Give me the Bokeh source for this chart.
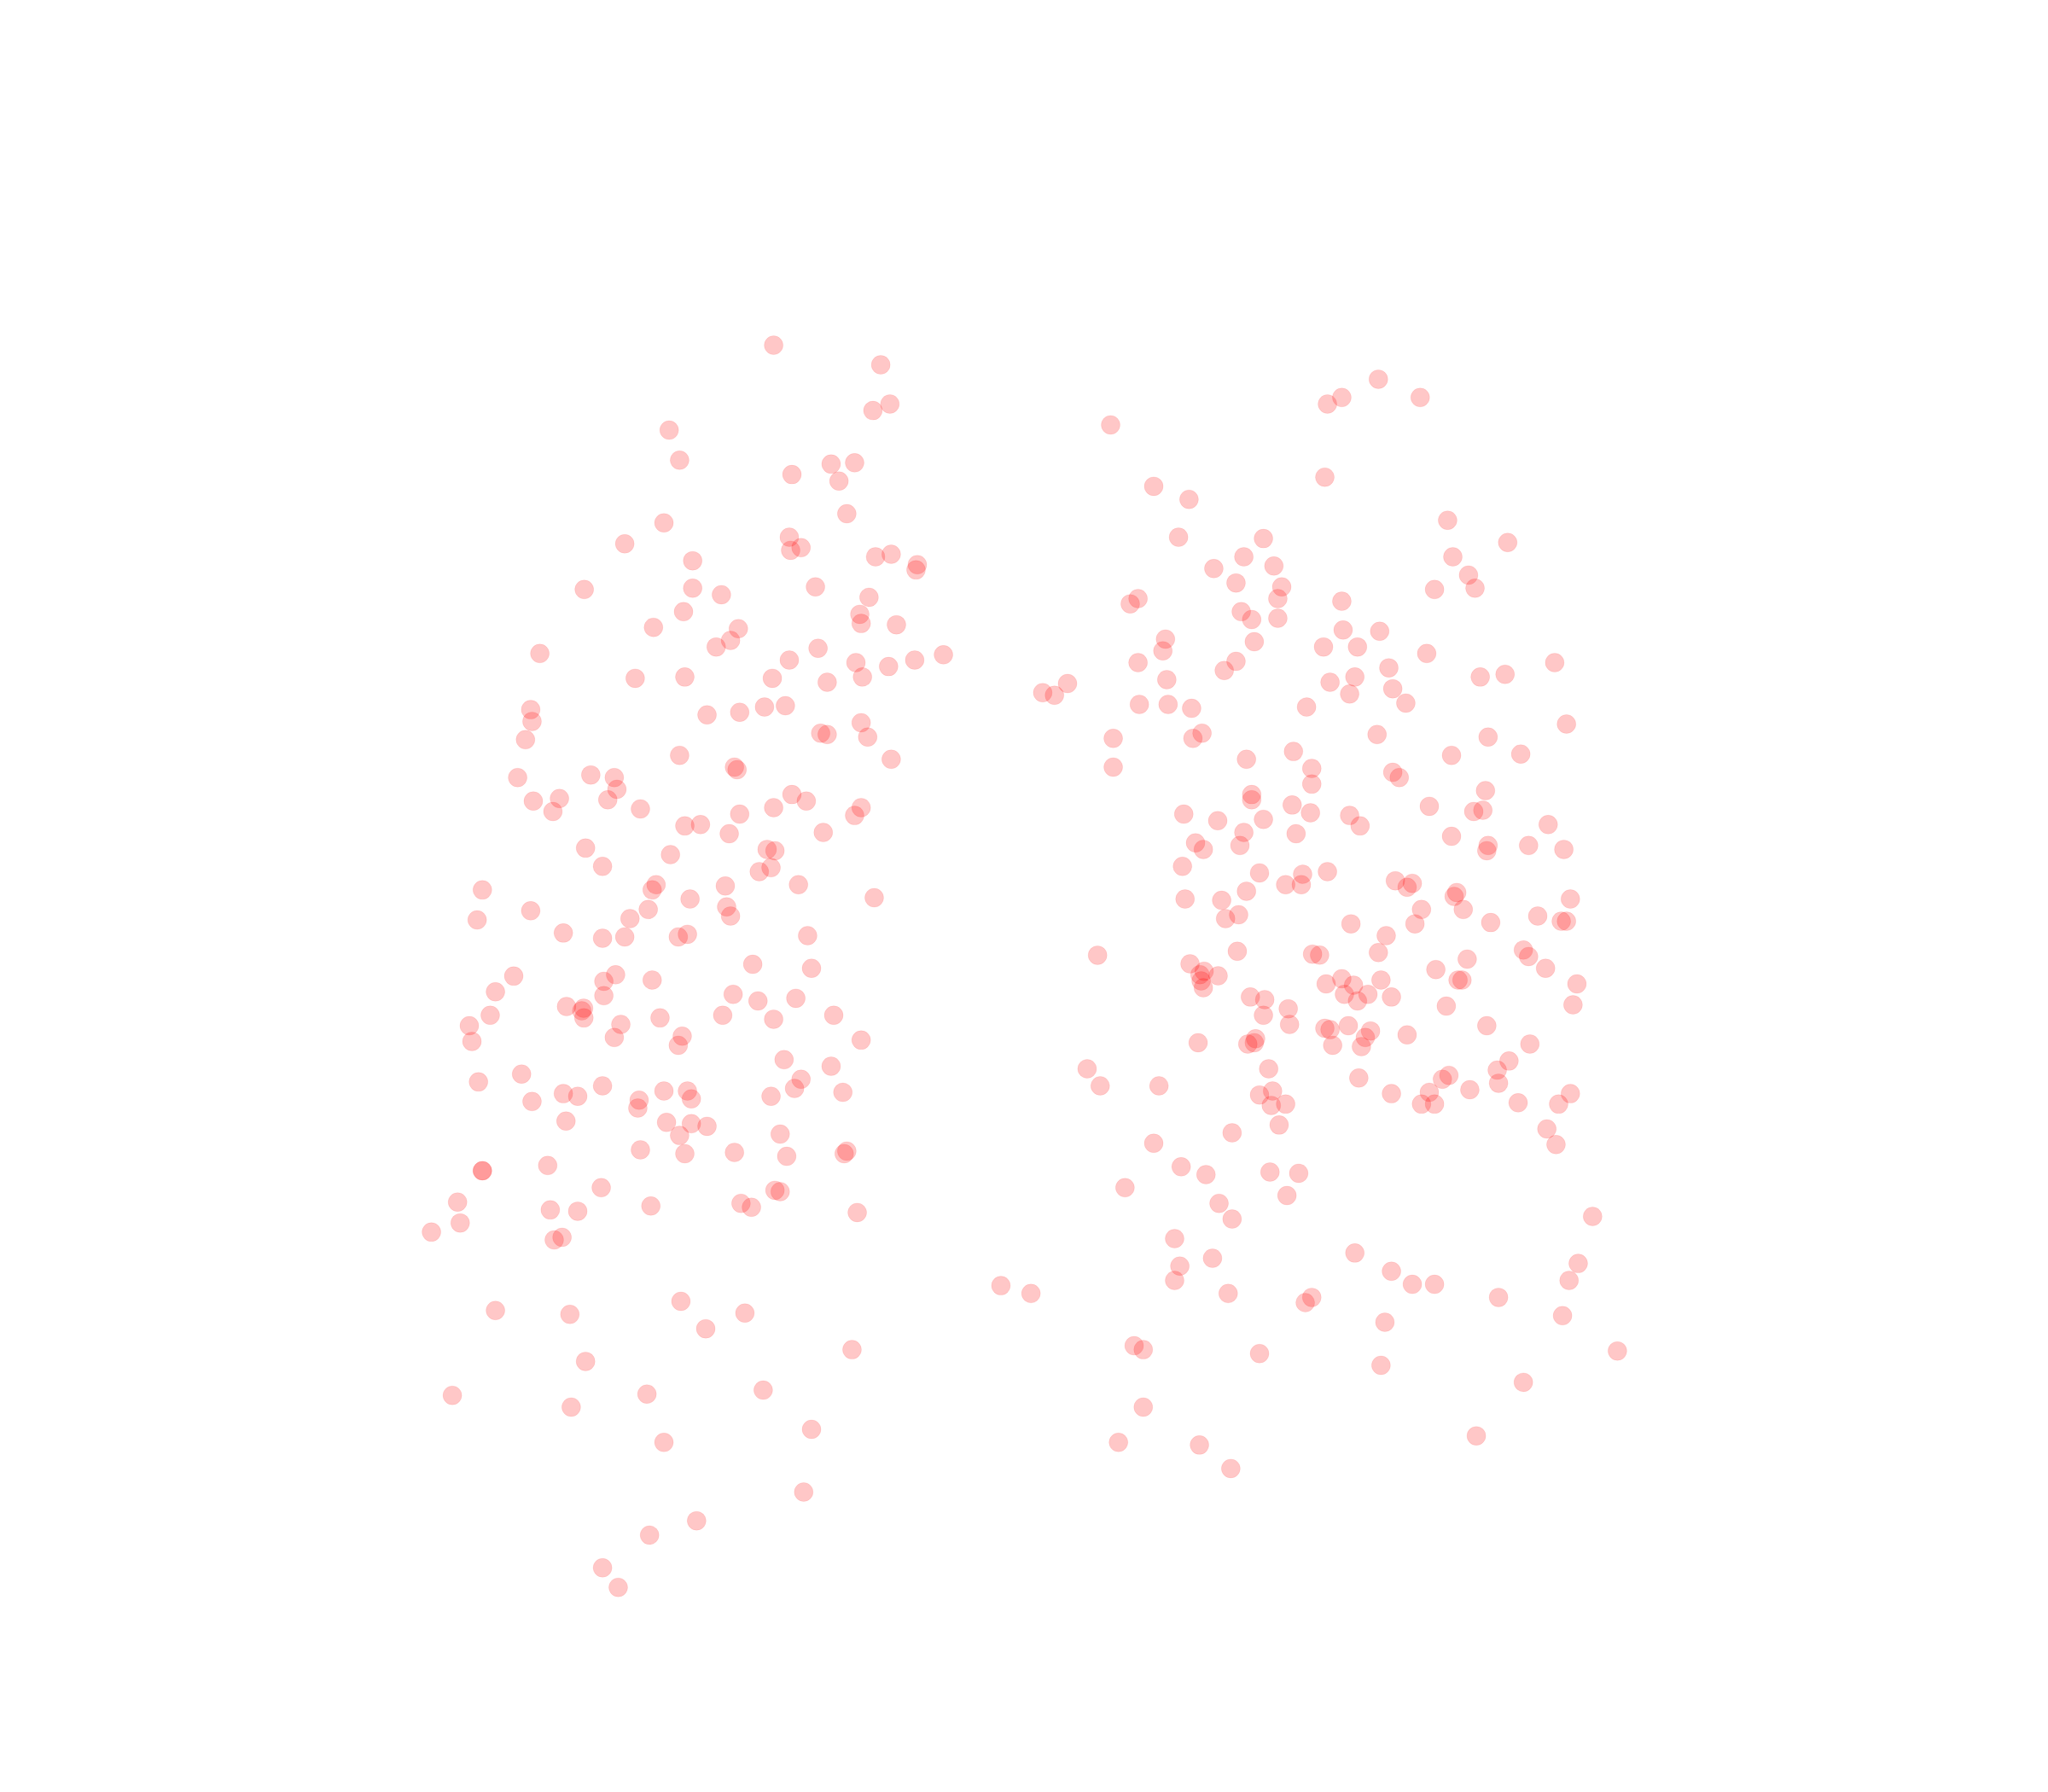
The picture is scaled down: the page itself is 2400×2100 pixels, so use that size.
from bokeh.plotting import figure
from bokeh.embed import file_html
from bokeh.resources import INLINE
from bokeh.models import Range1d

left_points = [(592,264),(674,279),(681,309),(668,314),(512,329),(520,352),(636,355),(654,354),(606,363),(642,368),(648,393),(508,400),(478,416),(604,411),(613,419),(605,421),(530,429),(670,426),(682,424),(702,432),(701,436),(447,451),(530,450),(552,455),(624,449),(665,457),(523,468),(658,470),(659,477),(686,478),(500,480),(565,481),(559,490),(548,495),(413,500),(626,496),(604,505),(655,507),(680,510),(700,505),(722,501),(486,519),(524,518),(591,519),(633,522),(660,518),(406,543),(407,552),(541,547),(566,545),(585,541),(601,540),(659,553),(402,566),(628,561),(633,562),(664,564),(520,578),(682,581),(562,587),(564,589),(396,595),(452,593),(470,595),(472,604),(465,612),(408,613),(428,611),(423,621),(490,619),(606,608),(617,613),(659,618),(654,624),(592,618),(566,623),(524,632),(536,631),(558,638),(630,637),(448,649),(461,663),(513,654),(587,650),(593,651),(590,664),(581,667),(369,681),(502,677),(499,681),(528,688),(555,678),(611,677),(669,687),(406,697),(365,704),(482,703),(496,696),(556,694),(559,701),(431,714),(461,718),(478,717),(519,717),(526,715),(618,716),(576,738),(621,741),(393,747),(471,746),(462,751),(499,750),(379,759),(462,762),(561,761),(580,766),(609,764),(433.4,770.3),(446.5,771.6),(445.1,773.6),(446.7,779),(375,777),(475,784),(505,779),(553,777),(592,780),(638,777),(359,785),(361,797),(470,794),(522,793),(519,800),(659,796),(600,811),(636,816),(366,828),(399,822),(613,826),(608,833),(645,836),(431,837),(442,839),(461,831),(489,842),(488,848),(508,835),(526,835),(529,841),(590,839),(407,843),(433,858),(510,859),(529,860),(541,862),(520,869),(597,868),(490,880),(524,883),(562,882),(602,885),(648,881),(646,883),(419,892),(369,896),(369,896),(460,909),(350,920),(421,926),(442,927),(498,923),(567,921),(575,924),(593,911),(597,912),(656,928),(352,936),(330,943),(424,949),(430,947),(379,1003),(436,1006),(521,996),(570,1005),(540,1017),(652,1033),(448,1042),(346,1068),(437,1077),(495,1067),(584,1064),(621,1094),(508,1104),(615,1142),(533,1164),(497,1175),(461,1200),(473,1215)]

right_points = [(850,325),(1016,309),(1027,304),(1055,290),(1087,304),(1014,365),(883,372),(910,382),(1108,398),(902,411),(967,412),(1154,415),(952,426),(1112,426),(929,435),(975,433),(1124,440),(946,446),(981,449),(1098,451),(1129,450),(871,458),(865,462),(978,458),(1027,460),(950,468),(958,474),(978,473),(892,489),(890,498),(1028,482),(1056,483),(960,491),(1013,495),(1039,495),(1092,500),(871,507),(946,506),(937,513),(1063,511),(1190,507),(893,520),(1018,522),(1037,518),(1133,518),(1152,516),(1066,527),(817,523),(798,530),(807,532),(1033,531),(872,539),(894,539),(912,542),(1000,541),(1076,538),(920,561),(913,565),(852,565),(1054,562),(1139,564),(1199,554),(852,587),(954,581),(990,575),(1111,578),(1164,577),(1004,588),(1066,591),(1071,595),(1004,600),(958,608),(958,612),(1137,605),(989,616),(1094,617),(1135,620),(1128,621),(906,623),(1003,622),(932,628),(967,627),(1033,624),(1041,632),(1185,631),(952,637),(992,638),(1111,640),(915,645),(949,647),(921,650),(1139,647),(1138,651),(1170,647),(1197,650),(905,663),(964,668),(997,669),(1016,667),(984,677),(996,677),(1068,674),(1081,676),(1077,679),(954,682),(1115,683),(1113,686),(907,688),(935,689),(1088,696),(1120,696),(1202,688),(948,700),(938,703),(1034,707),(1083,707),(1141,706),(1177,701),(1195,705),(1199,705),(1061,716),(947,728),(840,731),(1004.6,730.2),(1010,730.9),(1055,729),(1166,727),(1170,732),(1123,734),(910.8,737.6),(921.6,743.3),(918.4,745.9),(932.3,746.8),(919.3,750.7),(921,755.9),(1099,742),(1183,741),(1027,749),(1015,753),(1036,754),(1057,750),(1116,750),(1119,750),(1207,753),(957,763),(968,765),(1029,761),(1047,761),(1039,766),(1065,763),(1204,769),(986,772),(967,777),(1107,770),(987,784),(1014,787),(1018,788),(1032,785),(1049,789),(1138,785),(1077,792),(917,798),(955,799),(960,798),(961,795),(1020,800),(1042,801),(1045,794),(1171,799),(971,818),(832,818),(842,831),(887,831),(1155,812),(1146,819),(1040,825),(1104,826),(1109,823),(1147,829),(964,838),(974,835),(1065,837),(1094,836),(1125,834),(1202,837),(973,846),(984,845),(1088,845),(1098,845),(1162,844),(1193,845),(979,861),(943,867),(1184,864),(883,875),(1191,876),(904,893),(923,899),(972,897),(994,898),(861,909),(985,915),(933,921),(943,933),(1219,931),(899,948),(1037,959),(928,963),(903,969),(1208,967),(1065,973),(899,980),(1081,983),(1098,983),(1201,980),(766,984),(789,990),(940,990),(1004,993),(999,997),(1147,993),(1196,1007),(1060,1012),(868,1030),(875,1033),(964,1036),(1238,1034),(1057,1045),(1166,1058),(875,1077),(856,1104),(918,1106),(942,1124),(1130,1099)]

K = 2400 / 1568
x0, x1 = 0, 2384 / K
y0, y1 = 0, 2084 / K

p = figure(width=2384, height=2084, output_backend="svg", toolbar_location=None,
           x_range=Range1d(x0, x1), y_range=Range1d(y1, y0),
           min_border=0, outline_line_color=None, background_fill_color="white",
           border_fill_color="white")
p.axis.visible = False
p.grid.visible = False

for pts in (left_points, right_points):
    xs = [a for a, _ in pts]
    ys = [b for _, b in pts]
    p.scatter(xs, ys, size=22, fill_color="#ff0000", fill_alpha=0.22,
              line_color="#ff0000", line_alpha=0.08, line_width=1)

open("out.html", "w").write(file_html(p, INLINE))
